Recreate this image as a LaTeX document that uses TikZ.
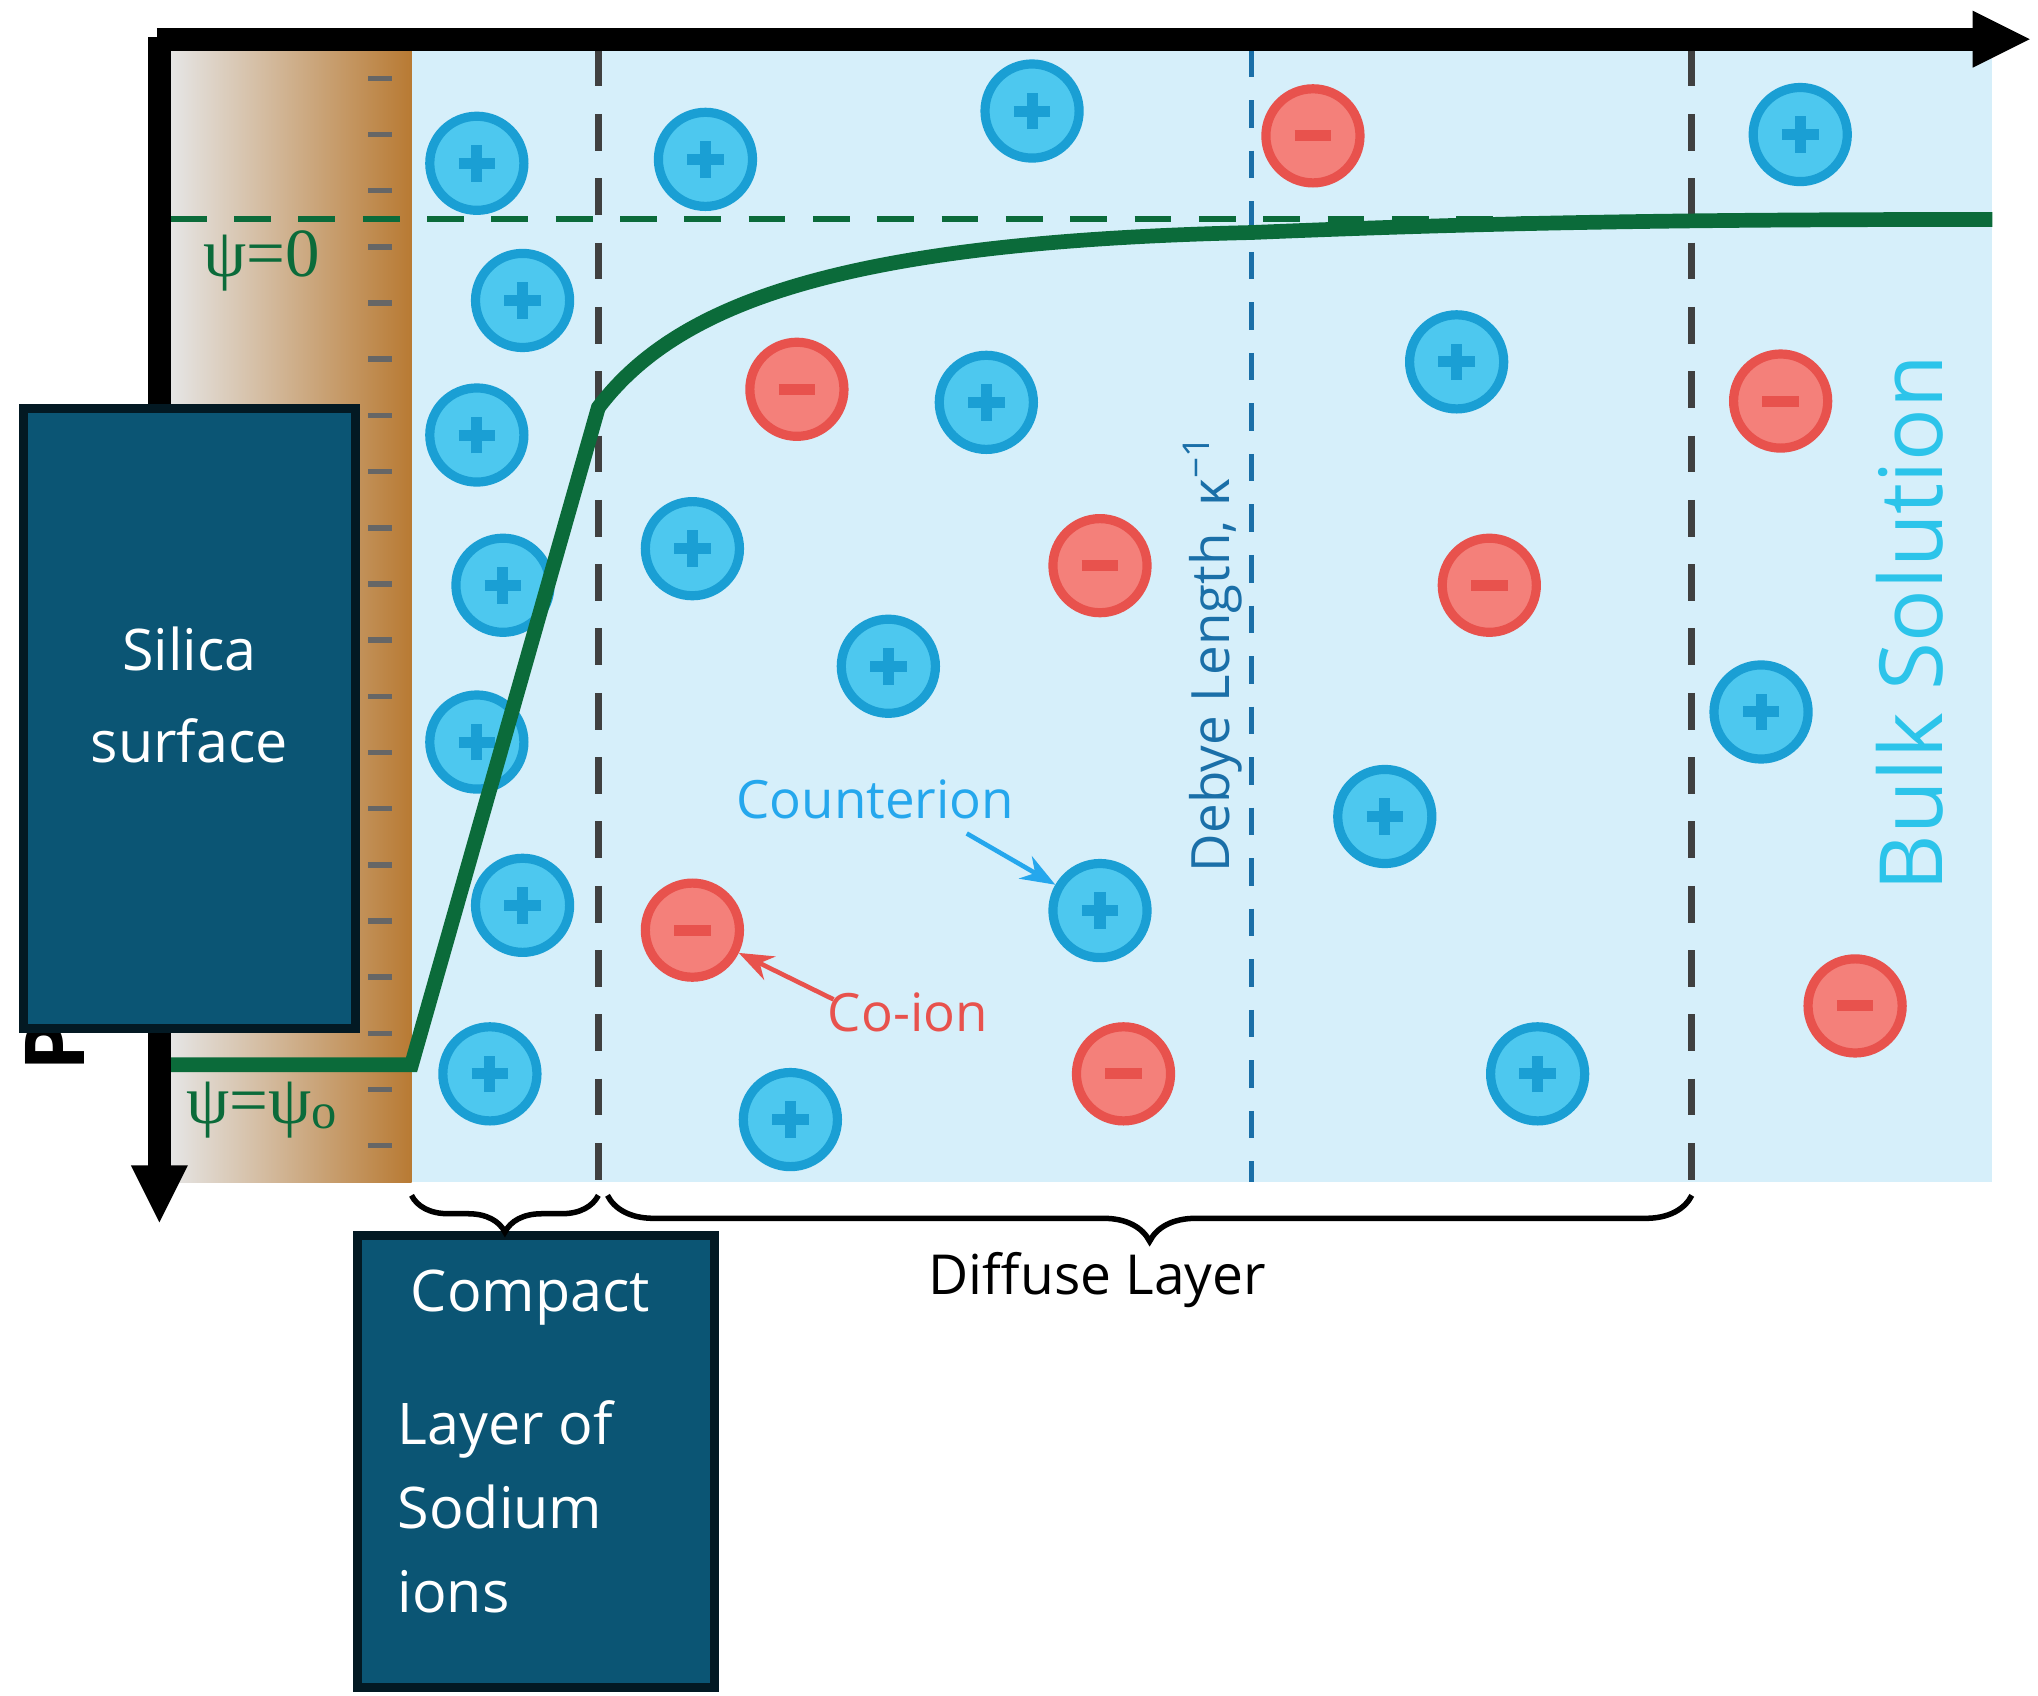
\documentclass[tikz,border=0pt]{standalone}
\usepackage{fontspec}
\setmainfont{Open Sans}
\newfontfamily\serifg{Liberation Serif}
\usetikzlibrary{arrows.meta,decorations.pathreplacing}
\definecolor{bluebg}{HTML}{D6EFFA}
\definecolor{brown1}{HTML}{B87A33}
\definecolor{teal1}{HTML}{0B5574}
\definecolor{green1}{HTML}{0B6B3A}
\definecolor{pfill}{HTML}{4DC8EF}
\definecolor{pdraw}{HTML}{1A9FD4}
\definecolor{mfill}{HTML}{F4807A}
\definecolor{mdraw}{HTML}{E8524D}
\definecolor{debye}{HTML}{1A6FA8}
\definecolor{bulk}{HTML}{2CC4EA}
\begin{document}
\begin{tikzpicture}[x=0.01cm,y=-0.01cm,
  plus/.style={circle,minimum size=0.72cm,fill=pfill,draw=pdraw,line width=2pt,inner sep=0pt,
     path picture={\draw[pdraw,line width=2.4pt] ([xshift=-0.14cm]path picture bounding box.center)--([xshift=0.14cm]path picture bounding box.center);
     \draw[pdraw,line width=2.4pt] ([yshift=-0.14cm]path picture bounding box.center)--([yshift=0.14cm]path picture bounding box.center);}},
  minus/.style={circle,minimum size=0.72cm,fill=mfill,draw=mdraw,line width=2pt,inner sep=0pt,
     path picture={\draw[mdraw,line width=2.4pt] ([xshift=-0.14cm]path picture bounding box.center)--([xshift=0.14cm]path picture bounding box.center);}},
  tbox/.style={fill=teal1,draw=black!70!teal1,line width=2pt,text=white,font=\fontsize{12.5}{20}\selectfont},
  wtext/.style={text=white,font=\fontsize{12.5}{18.2}\selectfont},
  vdash/.style={dashed,line width=1.6pt,dash pattern=on 8pt off 6pt}]
\useasboundingbox (0,0) rectangle (1560,1298);
\fill[left color=black!10,right color=brown1] (130,38) rectangle (315,905);
\fill[bluebg] (315,38) rectangle (1525,905);
\foreach \y in {60,103,146,189,232,275,318,361,404,447,490,533,576,619,662,705,748,791,834,877}
  \draw[black!60,line width=1.2pt] (282,\y)--(300,\y);
\draw[vdash,black!75] (458,38)--(458,912);
\draw[vdash,black!75] (1295,38)--(1295,912);
\draw[vdash,debye,line width=1pt,dash pattern=on 6pt off 5pt] (958,38)--(958,905);
\draw[vdash,green1,line width=1.3pt] (130,168)--(1525,168);
\foreach \x/\y [count=\i] in {365/125,540/122,790/85,1378/103,400/230,365/333,755/308,1115/277,530/420,385/448,680/510,365/568,1348/545,1060/625,400/693,842/697,375/822,605/857,1177/822}
  \node[plus] (p\i) at (\x,\y) {};
\foreach \x/\y [count=\i] in {1005/104,610/298,842/433,1363/307,1140/448,530/712,860/822,1420/770}
  \node[minus] (m\i) at (\x,\y) {};
\draw[green1,line width=3.2pt] (125,815)--(315,815)--(458,312) .. controls (520,230) and (650,185) .. (958,178) .. controls (1150,170) and (1300,168) .. (1525,168);
\draw[line width=5pt,-{Triangle[length=0.45cm,width=0.4cm]}] (120,30)--(1555,30);
\draw[line width=5pt,-{Triangle[length=0.45cm,width=0.4cm]}] (122,28)--(122,937);
\node[rotate=90,font=\fontsize{18}{18}\selectfont\bfseries] (P) at (42,800) {P};
\node[green1,font=\fontsize{15}{15}\selectfont\serifg] (psi0) at (200,200) {ψ=0};
\node[green1,font=\fontsize{15}{15}\selectfont\serifg] (psis) at (200,850) {ψ=ψ\raisebox{-0.15ex}{\fontsize{11}{11}\selectfont o}};
\node[rotate=90,debye,font=\fontsize{11.5}{12}\selectfont] (deb) at (928,500) {Debye Length, κ\textsuperscript{−1}};
\node[rotate=90,bulk,font=\fontsize{19}{19}\selectfont] (bulk) at (1462,477) {Bulk Solution};
\node[bulk!85!blue,font=\fontsize{11.5}{12}\selectfont] (ci) at (670,612) {Counterion};
\draw[bulk!85!blue,line width=1pt,-{Stealth}] (740,638)--(p16);
\node[mdraw,font=\fontsize{11.5}{12}\selectfont] (co) at (695,775) {Co-ion};
\draw[mdraw,line width=1pt,-{Stealth}] (638,765)--(m6);
\node[tbox,minimum width=2.54cm,minimum height=4.74cm] (sil) at (145,550) {};
\node[wtext,font=\fontsize{12.5}{20}\selectfont,align=center] (silt) at (145,532) {Silica\\surface};
\node[tbox,minimum width=2.73cm,minimum height=3.46cm,anchor=north west,inner sep=0pt] (cmp) at (270,942) {};
\node[wtext] (c1) at (406,993) {Compact};
\node[wtext,align=left,anchor=north west] (c2) at (292,1060) {Layer of\\Sodium\\ions};
\draw[decorate,decoration={brace,mirror,amplitude=8pt},line width=1.2pt] (315,915)--(458,915);
\draw[decorate,decoration={brace,mirror,amplitude=10pt},line width=1.2pt] (465,915)--(1295,915);
\node[font=\fontsize{12}{12}\selectfont] (dl) at (840,980) {Diffuse Layer};
\end{tikzpicture}
\end{document}
